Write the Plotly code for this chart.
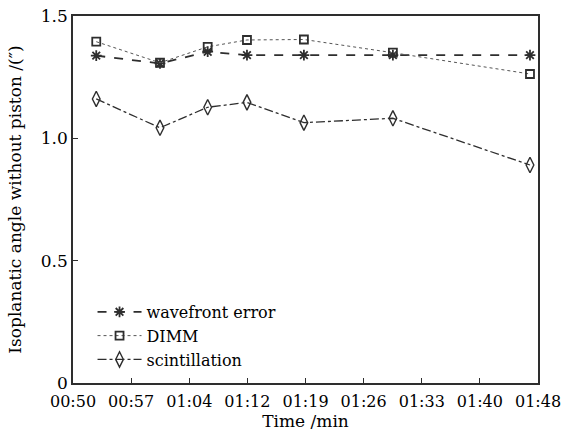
import plotly.graph_objects as go

# time in minutes after 00:00
times = [52.9, 60.85, 66.8, 71.7, 78.8, 89.9, 107.0]
wavefront = [1.338, 1.306, 1.354, 1.340, 1.340, 1.340, 1.340]
dimm = [1.395, 1.309, 1.374, 1.402, 1.404, 1.350, 1.263]
scint = [1.161, 1.043, 1.127, 1.147, 1.064, 1.082, 0.891]

tick_labels = ["00:50", "00:57", "01:04", "01:12", "01:19", "01:26", "01:33", "01:40", "01:48"]
tick_vals = [50 + 7.25 * i for i in range(len(tick_labels))]
y_ticks = [0, 0.5, 1.0, 1.5]
y_labels = ["0", "0.5", "1.0", "1.5"]

col = "#2e2e2e"
font = "DejaVu Serif"

fig = go.Figure()
fig.add_trace(go.Scatter(x=times, y=wavefront, mode="lines+markers", name="wavefront error",
                         line=dict(color=col, width=1.8, dash="dash"),
                         marker=dict(symbol="asterisk-open", size=9, color=col, line=dict(width=1.8, color=col))))
fig.add_trace(go.Scatter(x=times, y=dimm, mode="lines+markers", name="DIMM",
                         line=dict(color="#555555", width=1, dash="dot"),
                         marker=dict(symbol="square-open", size=8, color=col, line=dict(width=1.8, color=col))))
fig.add_trace(go.Scatter(x=times, y=scint, mode="lines+markers", name="scintillation",
                         line=dict(color=col, width=1.3, dash="dashdot"),
                         marker=dict(symbol="diamond-tall-open", size=11, color=col, line=dict(width=1.4, color=col))))

fig.update_layout(
    width=569, height=431,
    margin=dict(l=73, r=31, t=16, b=48),
    paper_bgcolor="white", plot_bgcolor="white",
    font=dict(family=font, size=16, color="black"),
    showlegend=True,
    legend=dict(x=0.042, y=0.24, xanchor="left", yanchor="top", bgcolor="rgba(0,0,0,0)",
                font=dict(family=font, size=16, color="black"), tracegroupgap=0, itemwidth=44),
    xaxis=dict(range=[50, 108], tickmode="array", tickvals=tick_vals, ticktext=tick_labels,
               ticks="inside", ticklen=5, tickcolor=col, showline=True, linecolor=col, linewidth=1.5,
               mirror=True, showgrid=False, zeroline=False, ticklabelstandoff=3, automargin=False,
               tickfont=dict(family=font, size=16),
               title=dict(text="Time /min", font=dict(family=font, size=17))),
    yaxis=dict(range=[0, 1.5], tickmode="array", tickvals=y_ticks, ticktext=y_labels,
               ticks="inside", ticklen=5, tickcolor=col, showline=True, linecolor=col, linewidth=1.5,
               mirror=True, showgrid=False, zeroline=False, automargin=False,
               tickfont=dict(family=font, size=17),
               title=dict(text="Isoplanatic angle without piston /(″)",
                          font=dict(family=font, size=17))),
)

fig.write_html("out.html")
